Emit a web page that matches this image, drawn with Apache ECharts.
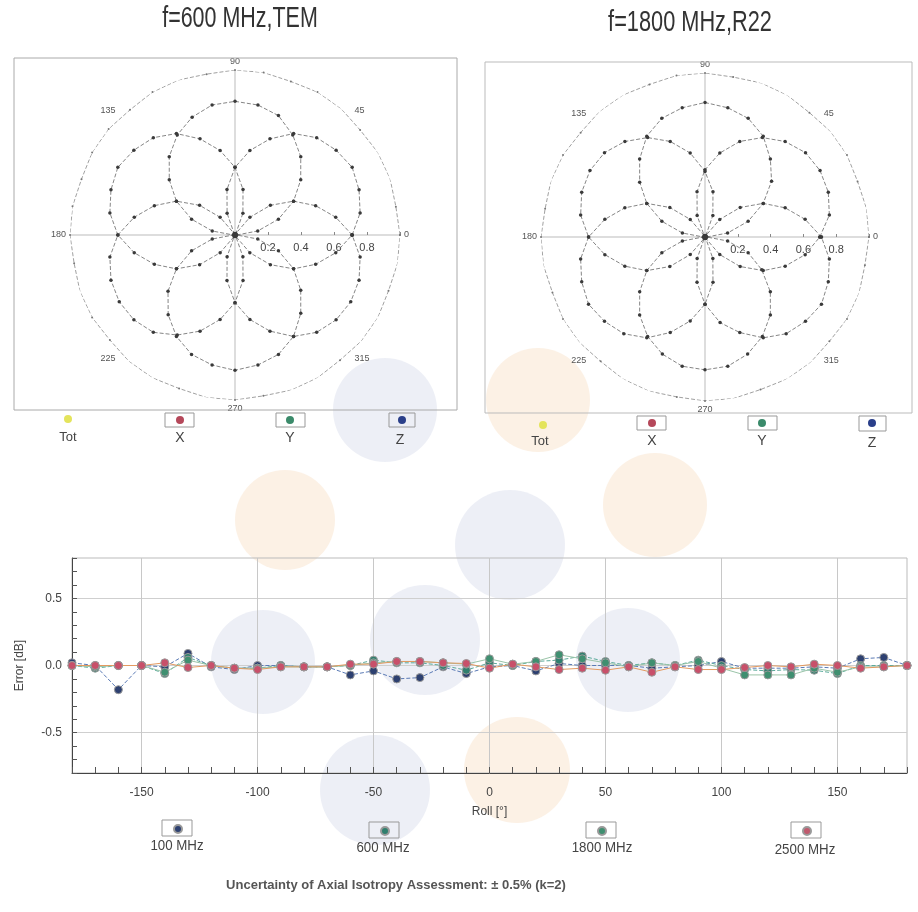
<!DOCTYPE html>
<html><head><meta charset="utf-8">
<script src="https://cdn.jsdelivr.net/npm/echarts@6/dist/echarts.min.js"></script>
<style>html,body{margin:0;padding:0;background:#fff}#c{width:918px;height:912px}</style>
</head><body><div id="c"></div>
<script>
// ---- polar data (roll angle in degrees, normalized sensor response) ----
const rollDeg = [0,10,20,30,40,50,60,70,80,90,100,110,120,130,140,150,160,170,180,190,200,210,220,230,240,250,260,270,280,290,300,310,320,330,340,350,360];
const tot600 = [1.00,0.99,1.00,1.00,0.99,1.00,1.00,0.99,1.00,1.00,0.99,1.00,1.00,0.99,1.00,1.00,0.99,1.00,1.00,0.99,1.00,1.00,0.99,1.00,1.00,0.99,1.00,1.00,0.99,1.00,1.00,0.99,1.00,1.00,0.99,1.00,1.00];
const x600 = [0.71,0.77,0.80,0.82,0.80,0.77,0.71,0.62,0.52,0.41,0.28,0.14,0.01,0.14,0.28,0.41,0.52,0.62,0.71,0.77,0.80,0.81,0.80,0.77,0.70,0.62,0.52,0.41,0.28,0.14,0.01,0.14,0.28,0.41,0.52,0.62,0.71];
const y600 = [0.71,0.62,0.52,0.41,0.28,0.14,0.01,0.14,0.28,0.41,0.52,0.62,0.71,0.77,0.80,0.82,0.80,0.77,0.71,0.62,0.52,0.41,0.28,0.14,0.01,0.14,0.28,0.41,0.52,0.62,0.71,0.77,0.80,0.81,0.80,0.77,0.71];
const z600 = [0.01,0.14,0.28,0.41,0.52,0.62,0.70,0.77,0.80,0.81,0.80,0.76,0.70,0.62,0.52,0.41,0.28,0.14,0.01,0.14,0.28,0.41,0.53,0.63,0.71,0.77,0.80,0.82,0.80,0.77,0.71,0.62,0.52,0.41,0.28,0.14,0.01];
const tot1800 = [1.00,1.00,0.99,1.00,1.00,0.99,1.00,1.00,0.99,1.00,1.00,0.99,1.00,1.00,0.99,1.00,1.00,0.99,1.00,1.00,0.99,1.00,1.00,0.99,1.00,1.00,0.99,1.00,1.00,0.99,1.00,1.00,0.99,1.00,1.00,0.99,1.00];
const x1800 = [0.70,0.77,0.80,0.81,0.80,0.76,0.70,0.62,0.52,0.41,0.28,0.14,0.01,0.14,0.28,0.41,0.52,0.62,0.71,0.77,0.80,0.82,0.80,0.77,0.71,0.62,0.52,0.41,0.28,0.14,0.01,0.14,0.28,0.41,0.52,0.62,0.70];
const y1800 = [0.71,0.62,0.52,0.41,0.28,0.14,0.01,0.14,0.28,0.40,0.52,0.62,0.70,0.76,0.80,0.81,0.80,0.77,0.71,0.62,0.52,0.41,0.28,0.14,0.01,0.14,0.28,0.41,0.53,0.62,0.71,0.77,0.80,0.82,0.80,0.77,0.71];
const z1800 = [0.01,0.14,0.28,0.41,0.53,0.62,0.71,0.77,0.80,0.82,0.80,0.77,0.71,0.62,0.52,0.41,0.28,0.14,0.01,0.14,0.28,0.41,0.52,0.62,0.70,0.76,0.80,0.81,0.80,0.76,0.70,0.62,0.52,0.40,0.28,0.14,0.01];
const angleTicks = [0,45,90,135,180,225,270,315];
const radiusTicks = [0.2,0.4,0.6,0.8];

// ---- axial isotropy error (dB) vs roll angle ----
const rollAxis = [-180,-170,-160,-150,-140,-130,-120,-110,-100,-90,-80,-70,-60,-50,-40,-30,-20,-10,0,10,20,30,40,50,60,70,80,90,100,110,120,130,140,150,160,170,180];
const err100 = [0.02,0.00,-0.18,0.00,-0.01,0.09,-0.01,-0.03,0.00,0.00,-0.01,-0.01,-0.07,-0.04,-0.10,-0.09,-0.01,-0.06,-0.01,0.00,-0.04,0.015,0.00,0.00,0.00,-0.02,-0.01,0.00,0.03,-0.02,-0.02,-0.02,-0.01,-0.02,0.05,0.06,0.00];
const err600 = [0.00,-0.02,0.00,0.00,-0.06,0.06,0.00,-0.02,-0.02,0.00,-0.01,-0.01,0.00,0.04,0.02,0.02,0.00,-0.035,0.02,0.00,0.03,0.04,0.07,0.03,0.00,0.02,0.00,0.04,0.00,-0.03,-0.04,-0.03,-0.035,-0.06,0.00,0.00,0.00];
const err1800 = [0.00,-0.01,0.00,0.00,-0.05,0.04,0.00,-0.02,-0.02,-0.01,-0.01,-0.01,0.00,0.02,0.03,0.03,0.02,0.01,0.05,0.01,0.03,0.08,0.05,0.02,-0.01,0.02,0.00,0.03,-0.02,-0.07,-0.07,-0.07,-0.02,-0.05,-0.01,-0.01,0.00];
const err2500 = [0.00,0.00,0.00,0.00,0.02,-0.015,0.00,-0.02,-0.03,-0.01,-0.01,-0.01,0.01,0.01,0.03,0.03,0.02,0.015,-0.02,0.01,-0.01,-0.03,-0.02,-0.035,-0.01,-0.05,-0.01,-0.03,-0.03,-0.015,0.00,-0.01,0.01,0.00,-0.02,-0.01,0.00];
const errLabels = ['0.5','0.0','-0.5'];
const rollLabels = [-150,-100,-50,0,50,100,150];

const sans = '"Liberation Sans",Arial,sans-serif';

const chart = echarts.init(document.getElementById('c'), null, {renderer:'canvas'});

function polarSeries(name, r, idx, isTot) {
  return {
    type:'line', name, coordinateSystem:'polar', polarIndex: idx,
    data: r.map((v,i)=>[v, rollDeg[i]]),
    symbol:'circle', symbolSize: isTot ? 2 : 3.5, showSymbol:true,
    itemStyle:{color: isTot ? '#777' : '#3a3a3a'},
    lineStyle:{color: isTot ? '#888' : '#666', width: 0.8, type:[4,2]},
    silent:true, animation:false, z: 3
  };
}
function errSeries(name, vals, color, lineColor, dash) {
  return {
    type:'line', name, xAxisIndex:0, yAxisIndex:0,
    data: vals.map((v,i)=>[rollAxis[i], v]),
    symbol:'circle', symbolSize:8,
    itemStyle:{color, borderColor:'#9a9a9a', borderWidth:1},
    lineStyle:{color: lineColor, width:1, type: dash ? [4,2] : 'solid'},
    silent:true, animation:false, z: 4
  };
}
function angleAxis(idx) {
  return {
    polarIndex: idx, type:'value', min:0, max:360, interval:45, startAngle:0, clockwise:false,
    axisLine:{show:false}, axisTick:{show:false},
    axisLabel:{margin:4, fontSize:9, color:'#555', fontFamily: sans,
      formatter: v => angleTicks.indexOf(v) >= 0 ? String(v) : ''},
    splitLine:{show:true, lineStyle:{color:['#aaa','rgba(0,0,0,0)'], width:0.8}}
  };
}
function radiusAxis(idx) {
  return {
    polarIndex: idx, type:'value', min:0, max:1, interval:0.2,
    axisLine:{show:false}, axisTick:{show:true, length:3, lineStyle:{color:'#888'}},
    axisLabel:{fontSize:11, color:'#444', margin:-7, verticalAlign:'top', fontFamily: sans,
      formatter: v => { const k = radiusTicks.find(t => Math.abs(t - v) < 1e-6); return k ? k.toFixed(1) : ''; }},
    splitLine:{show:false}
  };
}
function lg(name, color, cx, cy) {
  return {data:[{name, itemStyle:{color}}], left: cx-4, top: cy-4, icon:'circle',
    itemWidth:8, itemHeight:8, selectedMode:false, formatter: () => '', textStyle:{fontSize:1}, padding:0};
}
function txt(x, y, s, size, opts) {
  const o = opts || {};
  return {type:'text', x, y, z:20, scaleX: o.scaleX || 1, silent:true,
    style:{text:s, x:0, y:0, fontSize:size, fill:o.fill || '#444', fontWeight:o.bold ? 'bold' : 'normal',
      fontFamily: sans, textAlign:'center', textVerticalAlign:'middle'}};
}
function box(x, y, w, h) {
  return {type:'rect', z:15, silent:true, shape:{x, y, width:w, height:h}, style:{fill:'none', stroke:'#999', lineWidth:1}};
}
function blob(cx, cy, r, col) {
  return {type:'circle', z:-10, silent:true, shape:{cx, cy, r}, style:{fill:col}};
}
const wmBlue = 'rgba(214,220,236,0.45)', wmOrange = 'rgba(250,228,204,0.5)';

const option = {
  backgroundColor:'#fff',
  animation:false,
  polar:[{center:[235,235], radius:165}, {center:[705,237], radius:164}],
  angleAxis:[angleAxis(0), angleAxis(1)],
  radiusAxis:[radiusAxis(0), radiusAxis(1)],
  grid:{left:72, right:11, top:558, bottom:139, show:true, borderColor:'#bbb', borderWidth:1},
  xAxis:{type:'value', min:-180, max:180, interval:10,
    axisLine:{show:true, onZero:false, lineStyle:{color:'#444'}},
    axisTick:{show:true, inside:true, length:6, lineStyle:{color:'#555'}},
    axisLabel:{color:'#444', fontSize:12, margin:14, fontFamily: sans,
      formatter: v => rollLabels.indexOf(Math.round(v)) >= 0 ? String(Math.round(v)) : ''},
    splitLine:{show:true, lineStyle:{color:['rgba(0,0,0,0)','rgba(0,0,0,0)','rgba(0,0,0,0)','#c8c8c8','rgba(0,0,0,0)'], width:1}},
    name:'Roll [°]', nameLocation:'middle', nameGap:33, nameTextStyle:{color:'#444', fontSize:12, fontFamily: sans}},
  yAxis:{type:'value', min:-0.8, max:0.8, interval:0.1,
    axisLine:{show:true, onZero:false, lineStyle:{color:'#444'}},
    axisTick:{show:true, inside:true, length:5, lineStyle:{color:'#555'}},
    axisLabel:{color:'#444', fontSize:12, margin:10, fontFamily: sans,
      formatter: v => { const k = Math.round(v*10); return k===5 ? errLabels[0] : k===0 ? errLabels[1] : k===-5 ? errLabels[2] : ''; }},
    splitLine:{show:true, lineStyle:{color:['rgba(0,0,0,0)','rgba(0,0,0,0)','rgba(0,0,0,0)','#cfcfcf','rgba(0,0,0,0)'], width:1}},
    name:'Error [dB]', nameLocation:'middle', nameGap:46, nameRotate:90, nameTextStyle:{color:'#444', fontSize:12, fontFamily: sans}},
  legend:[
    lg('Tot','#e4e45c',68,419), lg('X','#b5485a',180,420), lg('Y','#3a8a6a',290,420), lg('Z','#2a3f8a',402,420),
    lg('Tot','#e4e45c',543,425), lg('X','#b5485a',652,423), lg('Y','#3a8a6a',762,423), lg('Z','#2a3f8a',872,423),
    lg('100 MHz','#2d4070',177,828), lg('600 MHz','#2f7f6e',384,830), lg('1800 MHz','#3f8f70',601,830), lg('2500 MHz','#c05a6e',806,830)
  ],
  series:[
    polarSeries('Tot', tot600, 0, true), polarSeries('X', x600, 0), polarSeries('Y', y600, 0), polarSeries('Z', z600, 0),
    polarSeries('Tot', tot1800, 1, true), polarSeries('X', x1800, 1), polarSeries('Y', y1800, 1), polarSeries('Z', z1800, 1),
    errSeries('100 MHz', err100, '#2d4070', '#5a7ab5', true),
    errSeries('600 MHz', err600, '#2f7f6e', '#5aaa9a', true),
    errSeries('1800 MHz', err1800, '#3f8f70', '#9ac4a8', false),
    errSeries('2500 MHz', err2500, '#c8506a', '#e49a60', false)
  ],
  graphic:[
    blob(385,410,52,wmBlue), blob(510,545,55,wmBlue), blob(425,640,55,wmBlue), blob(263,662,52,wmBlue), blob(375,790,55,wmBlue), blob(628,660,52,wmBlue),
    blob(285,520,50,wmOrange), blob(538,400,52,wmOrange), blob(655,505,52,wmOrange), blob(517,770,53,wmOrange),
    {type:'rect', z:1, silent:true, shape:{x:14, y:58, width:443, height:352}, style:{fill:'none', stroke:'#aaa', lineWidth:1}},
    {type:'rect', z:1, silent:true, shape:{x:485, y:62, width:427, height:351}, style:{fill:'none', stroke:'#bbb', lineWidth:1}},
    txt(240,19,'f=600 MHz,TEM',29,{scaleX:0.74, fill:'#333'}),
    txt(690,23,'f=1800 MHz,R22',29,{scaleX:0.75, fill:'#333'}),
    box(165,413,29,14), box(276,413,29,14), box(389,413,26,14),
    box(637,416,29,14), box(748,416,29,14), box(859,416,27,15),
    box(162,820,30,16), box(369,822,30,16), box(586,822,30,16), box(791,822,30,16),
    txt(68,437,'Tot',13), txt(180,438,'X',14), txt(290,438,'Y',14), txt(400,440,'Z',14),
    txt(540,441,'Tot',13), txt(652,441,'X',14), txt(762,441,'Y',14), txt(872,443,'Z',14),
    txt(177,846,'100 MHz',14,{scaleX:0.95}), txt(383,848,'600 MHz',14,{scaleX:0.95}), txt(602,848,'1800 MHz',14,{scaleX:0.95}), txt(805,850,'2500 MHz',14,{scaleX:0.95}),
    txt(396,885,'Uncertainty of Axial Isotropy Assessment: ± 0.5% (k=2)',13,{bold:true, fill:'#555'})
  ]
};
chart.setOption(option);
</script>
</body></html>
